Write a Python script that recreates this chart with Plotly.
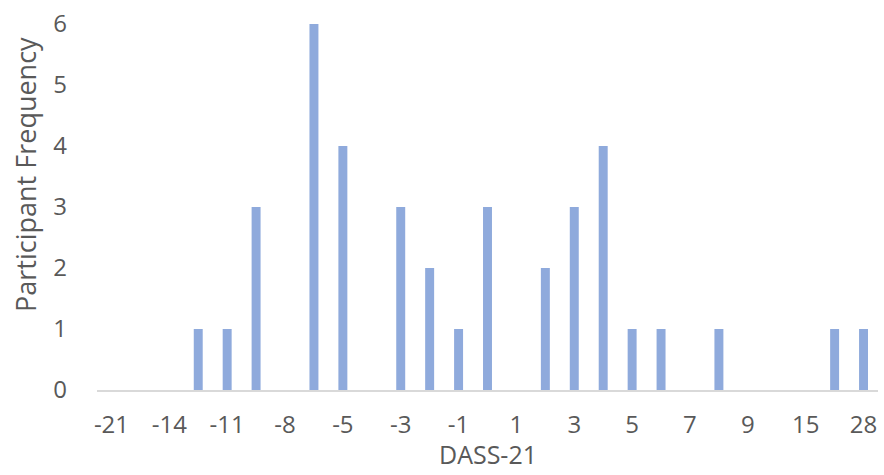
import plotly.graph_objects as go

# DASS-21 change scores (category order) and participant counts
scores = ["-21", "-16", "-14", "-12", "-11", "-10", "-8", "-7", "-5", "-4",
          "-3", "-2", "-1", "0", "1", "2", "3", "4", "5", "6",
          "7", "8", "9", "12", "15", "18", "28"]
frequency = [0, 0, 0, 1, 1, 3, 0, 6, 4, 0,
             3, 2, 1, 3, 0, 2, 3, 4, 1, 1,
             0, 1, 0, 0, 0, 1, 1]
shown_ticks = scores[::2]
y_ticks = [0, 1, 2, 3, 4, 5, 6]

FONT = "'Open Sans', Lato, sans-serif"
TEXT = "#595959"
TICK_FS = 24
TITLE_FS = 27
X_TITLE_FS = 25

fig = go.Figure(
    go.Bar(
        x=scores,
        y=frequency,
        marker=dict(color="#8FAADC", line=dict(width=0)),
        hoverinfo="x+y",
    )
)

W, H = 884, 475
ml, mr, mt, mb = 97, 6, 19, 85

fig.update_layout(
    width=W,
    height=H,
    margin=dict(l=ml, r=mr, t=mt, b=mb),
    paper_bgcolor="white",
    plot_bgcolor="white",
    bargap=0.69,
    showlegend=False,
    font=dict(family=FONT, size=TICK_FS, color=TEXT),
    xaxis=dict(
        type="category",
        categoryorder="array",
        categoryarray=scores,
        tickmode="array",
        tickvals=shown_ticks,
        ticktext=shown_ticks,
        showline=True,
        linecolor="#D9D9D9",
        linewidth=1.5,
        showgrid=False,
        ticks="",
        ticklabelstandoff=12,
        tickfont=dict(family=FONT, size=TICK_FS, color=TEXT),
        range=[-0.5, len(scores) - 0.5],
    ),
    yaxis=dict(
        range=[0, 6],
        tickmode="array",
        tickvals=y_ticks,
        showline=False,
        showgrid=False,
        zeroline=False,
        ticks="",
        ticklabelstandoff=29,
        tickfont=dict(family=FONT, size=TICK_FS, color=TEXT),
    ),
    annotations=[
        dict(
            text="DASS-21",
            xref="paper", yref="paper",
            x=0.5, y=-(H - 1 - (H - mb)) / (H - mt - mb),
            xanchor="center", yanchor="bottom",
            showarrow=False,
            font=dict(family=FONT, size=X_TITLE_FS, color=TEXT),
        ),
        dict(
            text="Participant Frequency",
            xref="paper", yref="paper",
            x=-(ml - 26) / (W - ml - mr), y=(H - mb - 172) / (H - mt - mb),
            xanchor="center", yanchor="middle",
            textangle=-90,
            showarrow=False,
            font=dict(family=FONT, size=TITLE_FS, color=TEXT),
        ),
    ],
)

fig.write_html("out.html")
